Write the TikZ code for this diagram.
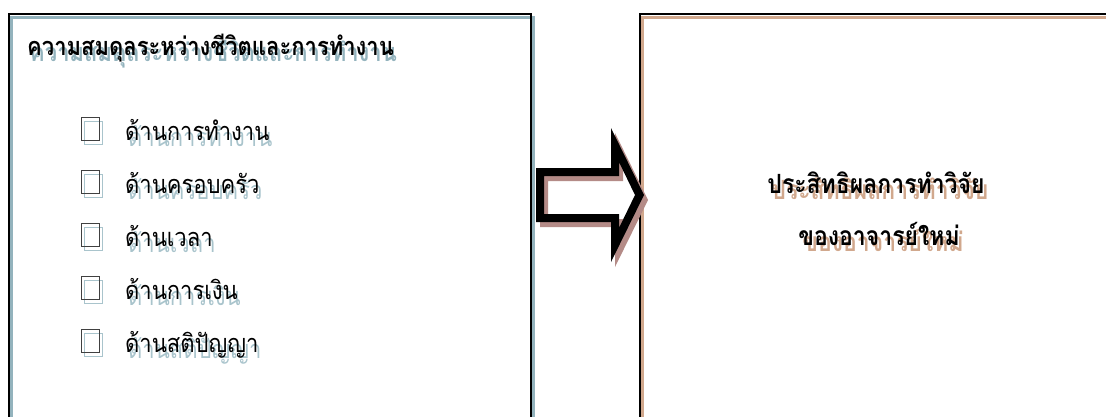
\documentclass[tikz,border=0pt]{standalone}
\usepackage{fontspec}
\newfontfamily\thai[Script=Thai]{Loma}
\newcommand{\tallt}[1]{\scalebox{1}[1.15]{#1}}
\definecolor{blueshadow}{HTML}{93B3BD}
\definecolor{blueshadowlt}{HTML}{A9C4CC}
\definecolor{tanshadow}{HTML}{D1A88D}
\definecolor{arrowshadow}{HTML}{B48B87}
\tikzset{
  frame/.style={draw=black, line width=2.4pt},
  frameshadow/.style={line width=3pt},
  cbox/.style={draw=black!75, line width=0.8pt, minimum width=18pt, minimum height=23pt, inner sep=0pt},
  cboxsh/.style={draw=blueshadowlt, line width=0.8pt, minimum width=18pt, minimum height=23pt, inner sep=0pt},
  titletext/.style={font=\thai\bfseries\fontsize{22}{26}\selectfont, anchor=base west, inner sep=0pt},
  itemtext/.style={font=\thai\fontsize{22}{26}\selectfont, anchor=base west, inner sep=0pt},
  resulttext/.style={font=\thai\bfseries\fontsize{23}{27}\selectfont, anchor=base, inner sep=0pt},
}
\begin{document}
\begin{tikzpicture}[x=1pt,y=-1pt]
\useasboundingbox (0,0) rectangle (1106,416);
\clip (0,0) rectangle (1106,416);
\fill[white] (0,0) rectangle (1106,416);
% left box
\draw[frameshadow, draw=blueshadow] (11,17) rectangle (533,440);
\node[frame, minimum width=522pt, minimum height=427pt, anchor=north west, inner sep=0pt] (left) at (8,13) {};
% right box
\draw[frameshadow, draw=tanshadow] (642,17) rectangle (1130,440);
\node[frame, minimum width=490pt, minimum height=427pt, anchor=north west, inner sep=0pt] (right) at (639,13) {};
% title
\node[titletext, text=blueshadow] (titlesh) at (30,61) {\tallt{ความสมดุลระหว่างชีวิตและการทำงาน}};
\node[titletext] (title) at (27,55) {\tallt{ความสมดุลระหว่างชีวิตและการทำงาน}};
% items
\foreach \i/\t in {0/ด้านการทำงาน,1/ด้านครอบครัว,2/ด้านเวลา,3/ด้านการเงิน,4/ด้านสติปัญญา}{
  \node[cboxsh] (boxsh\i) at (93.5,133+53*\i) {};
  \node[cbox] (box\i) at (90.5,128.5+53*\i) {};
  \node[itemtext, text=blueshadowlt] (itemsh\i) at (128,146+53*\i) {\tallt{\t}};
  \node[itemtext] (item\i) at (125,140+53*\i) {\tallt{\t}};
}
% result text
\node[resulttext, text=tanshadow] (res1sh) at (880,199) {\tallt{ประสิทธิผลการทำวิจัย}};
\node[resulttext] (res1) at (876,193) {\tallt{ประสิทธิผลการทำวิจัย}};
\node[resulttext, text=tanshadow] (res2sh) at (883,251) {\tallt{ของอาจารย์ใหม่}};
\node[resulttext] (res2) at (879,245) {\tallt{ของอาจารย์ใหม่}};
% block arrow (outline ring)
\fill[arrowshadow, even odd rule, shift={(4,5)}]
  (536,168) -- (611,168) -- (611,128) -- (644,195) -- (611,262) -- (611,222) -- (536,222) -- cycle
  (544,176) -- (619,176) -- (619,162) -- (635,195) -- (619,228) -- (619,214) -- (544,214) -- cycle;
\fill[black, even odd rule]
  (536,168) -- (611,168) -- (611,128) -- (644,195) -- (611,262) -- (611,222) -- (536,222) -- cycle
  (544,176) -- (619,176) -- (619,162) -- (635,195) -- (619,228) -- (619,214) -- (544,214) -- cycle;
\end{tikzpicture}
\end{document}
